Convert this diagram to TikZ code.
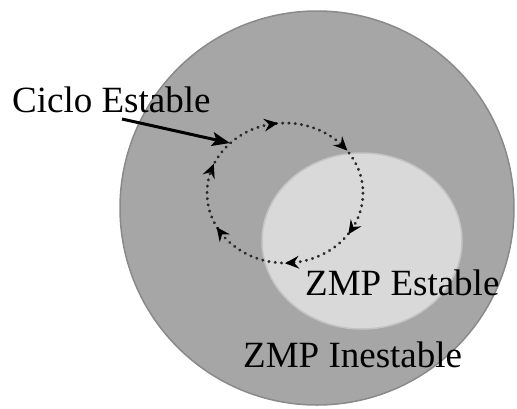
\documentclass[tikz,border=0pt]{standalone}
\usepackage{fontspec}
\setmainfont{Liberation Serif}
\usetikzlibrary{arrows.meta,decorations.markings}

\definecolor{outerfill}{HTML}{A6A6A6}
\definecolor{outerline}{HTML}{8A8A8A}
\definecolor{innerfill}{HTML}{D9D9D9}
\definecolor{innerline}{HTML}{C4C4C4}
\definecolor{dotcol}{HTML}{2A2A2A}

% a stealth-shaped head pointing along the local path direction
\newcommand{\cyclehead}{\fill[black] (6pt,0pt) -- (-8pt,6.5pt) -- (-3pt,0pt) -- (-8pt,-6.5pt) -- cycle;}

\tikzset{
  region/.style={line width=1.5pt},
  label/.style={inner sep=0pt, anchor=base west, font=\fontsize{37}{40}\selectfont},
  loopline/.style={draw=dotcol, line width=3pt, line cap=round,
    dash pattern=on 0.3pt off 6pt},
  pointer/.style={line width=3pt, -{Stealth[length=18pt,width=14pt,inset=4pt]}},
}

\begin{document}
\begin{tikzpicture}[x=1pt,y=-1pt]
  \useasboundingbox (0,0) rectangle (517,408);

  % unstable ZMP region and the stable one inside it
  \fill[outerfill, draw=outerline, region] (317,208) circle [radius=197];
  \fill[innerfill, draw=innerline, region] (362,241) ellipse [x radius=100, y radius=88];

  % closed walking cycle, traversed clockwise
  \draw[loopline] (285,193) ellipse [x radius=78, y radius=70];
  \path[decorate, decoration={markings,
      mark=at position 0.083 with {\cyclehead},
      mark=at position 0.237 with {\cyclehead},
      mark=at position 0.410 with {\cyclehead},
      mark=at position 0.552 with {\cyclehead},
      mark=at position 0.722 with {\cyclehead},
      mark=at position 0.888 with {\cyclehead}}]
    (285,193) ellipse [x radius=78, y radius=70];
  \coordinate (cycletouch) at (230,143);

  % labels
  \node[label] (ciclo) at (12,112) {Ciclo Estable};
  \node[label] (estable) at (305,295) {ZMP Estable};
  \node[label] (inestable) at (243,367) {ZMP Inestable};

  % pointer from the cycle label to the loop
  \coordinate (pointertail) at (122,119);
  \draw[pointer] (pointertail) -- (cycletouch);
\end{tikzpicture}
\end{document}
